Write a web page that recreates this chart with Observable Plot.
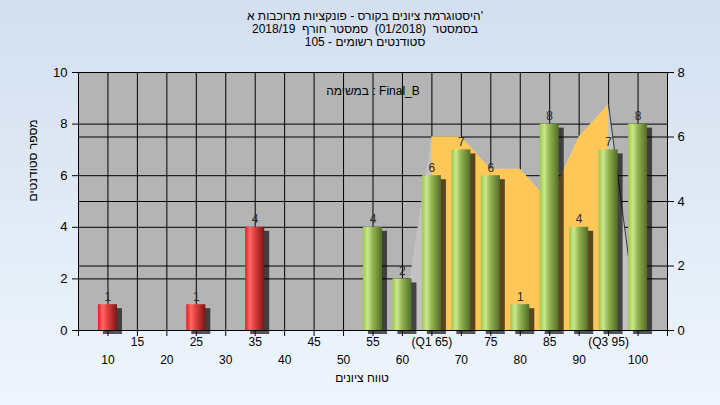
<!DOCTYPE html>
<html><head><meta charset="utf-8">
<script src="https://cdn.jsdelivr.net/npm/d3@7"></script>
<script src="https://cdn.jsdelivr.net/npm/@observablehq/plot@0.6"></script>
<style>
html,body{margin:0;padding:0;}
body{width:720px;height:405px;overflow:hidden;background:linear-gradient(#d3dff0,#eef5fc);font-family:"Liberation Sans",Arial,sans-serif;}
#title{height:50px;box-sizing:border-box;padding-top:10px;padding-left:10px;text-align:center;font-size:12px;line-height:13px;color:#000;white-space:pre;}
#chart svg{display:block;}
</style></head><body>
<div id="title"></div><div id="chart"></div>
<script>
// ---- data ----
const titleLines = ["היסטוגרמת ציונים בקורס - פונקציות מרוכבות א'", "בסמסטר  (01/2018)  סמסטר חורף  2018/19", "סטודנטים רשומים - 105"];
const legendText = "במשימה : Final_B";
const xTitle = "טווח ציונים";
const yTitle = "מספר סטודנטים";
const categories = [10,15,20,25,30,35,40,45,50,55,60,65,70,75,80,85,90,95,100];
const counts =     [1, 0, 0, 1, 0, 4, 0, 0, 0, 4, 2, 6, 7, 6, 1, 8, 4, 7, 8];
const curve =      [0, 0, 0, 0, 0, 0, 0, 0, 0, 0, 0, 6, 6, 5, 5, 4, 6, 7, 0]; // right-axis units
const tickLabels = ["10","15","20","25","30","35","40","45","50","55","60","(Q1 65)","70","75","80","85","90","(Q3 95)","100"];
const q1 = 65, q3 = 95, passMark = 55;
const leftTicks = [0,2,4,6,8,10];
const rightTicks = [0,2,4,6,8];
const xTickPositions = [5,10,15,20,25,30,35,40,45,50,55,60,65,70,75,80,85,90,95,100,105];
const leftMax = 10, rightMax = 8;

// ---- build ----
const titleEl = document.getElementById("title");
titleLines.forEach(t => { const d = document.createElement("div"); d.textContent = t; titleEl.appendChild(d); });
const k = leftMax / rightMax;
const rows = categories.map((c, i) => ({score: c, count: counts[i], curve: curve[i], label: tickLabels[i], row: i % 2}));
const bars = rows.filter(d => d.count > 0);
const barOpts = {x1: d => d.score - 2.5, x2: d => d.score + 2.5, y: "count", insetLeft: 5.2, insetRight: 5.2};

const plot = Plot.plot({
  width: 720, height: 355,
  marginTop: 22, marginBottom: 75, marginLeft: 78, marginRight: 53,
  x: {domain: [5, 105]},
  y: {domain: [0, leftMax]},
  style: {background: "transparent", fontFamily: "'Liberation Sans', Arial, sans-serif", fontSize: "12px", color: "#000"},
  marks: [
    Plot.frame({fill: "#b4b4b4"}),
    Plot.ruleX(categories, {stroke: "#000", strokeOpacity: 1}),
    Plot.ruleY(leftTicks, {stroke: "#000"}),
    Plot.ruleY(rightTicks, {y: d => d * k, stroke: "#000"}),
    Plot.areaY(rows, {x: "score", y: d => d.curve * k, fill: "#c2c2c2"}),
    Plot.areaY(rows.filter(d => d.score >= q1 && d.score <= q3), {x: "score", y: d => d.curve * k, fill: "#fec757"}),
    Plot.line(rows.filter(d => d.score >= q3), {x: "score", y: d => d.curve * k, stroke: "#3a3a3a", strokeWidth: 1}),
    Plot.rectY(bars, {...barOpts, dx: 5, dy: 4, fill: "#000", fillOpacity: 0.65, ariaLabel: "bar-shadow"}),
    Plot.rectY(bars.filter(d => d.score < passMark), {...barOpts, fill: "url(#gRed)"}),
    Plot.rectY(bars.filter(d => d.score >= passMark), {...barOpts, fill: "url(#gGreen)"}),
    Plot.text(bars, {x: "score", y: "count", text: d => String(d.count), lineAnchor: "bottom", dy: -4, fill: "#2a2a2a", fontSize: 12}),
    Plot.frame({stroke: "#000"}),
    Plot.axisY({anchor: "left", ticks: leftTicks, tickSize: 6, tickPadding: 5, label: null, fontSize: 13}),
    Plot.axisY({anchor: "right", ticks: rightTicks.map(v => v * k), tickFormat: d => String(Math.round(d / k)), tickSize: 6, tickPadding: 4, label: null, fontSize: 13}),
    Plot.axisX({ticks: xTickPositions, tickFormat: () => "", tickSize: 6, label: null}),
    Plot.text(rows.filter(d => d.row === 1), {x: "score", text: "label", frameAnchor: "bottom", dy: 15, fontSize: 12}),
    Plot.text(rows.filter(d => d.row === 0), {x: "score", text: "label", frameAnchor: "bottom", dy: 33, fontSize: 12}),
    Plot.text([xTitle], {frameAnchor: "bottom", dy: 51, dx: -11, fontSize: 12}),
    Plot.text([yTitle], {frameAnchor: "left", dx: -45, rotate: -90, fontSize: 12}),
    Plot.text([legendText], {frameAnchor: "top", dy: 14, fontSize: 12})
  ]
});

const svg = d3.select(plot);
const defs = svg.insert("defs", ":first-child");
function grad(id, stops) {
  const g = defs.append("linearGradient").attr("id", id).attr("x1", "0").attr("x2", "1").attr("y1", "0").attr("y2", "0");
  stops.forEach(([o, c]) => g.append("stop").attr("offset", o).attr("stop-color", c));
}
grad("gRed", [["0%", "#f01818"], ["25%", "#ff6a6a"], ["45%", "#e84444"], ["100%", "#7e1414"]]);
grad("gGreen", [["0%", "#9cc84a"], ["25%", "#cbe78f"], ["50%", "#93b652"], ["100%", "#536c27"]]);
defs.append("filter").attr("id", "blur").attr("x", "-50%").attr("y", "-20%").attr("width", "200%").attr("height", "140%")
  .append("feGaussianBlur").attr("stdDeviation", 3);
svg.selectAll('g[aria-label="bar-shadow"]').attr("filter", "url(#blur)");

document.getElementById("chart").appendChild(plot);
</script>
</body></html>
